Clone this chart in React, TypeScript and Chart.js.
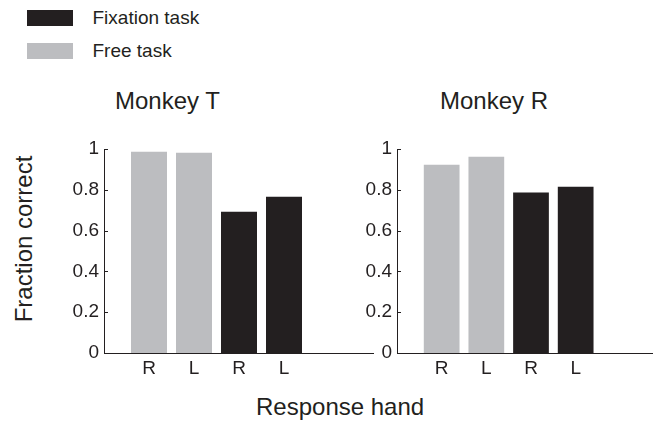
import React, { useEffect, useRef } from "react";
import { Chart, registerables } from "chart.js";

Chart.register(...registerables);

const handLabels = ["R", "L", "R", "L"];
const yTickValues = [0, 0.2, 0.4, 0.6, 0.8, 1];
const monkeyTFree = [0.987, 0.982];
const monkeyTFixation = [0.692, 0.766];
const monkeyRFree = [0.923, 0.962];
const monkeyRFixation = [0.787, 0.815];

const BLACK = "#231f20";
const GRAY = "#bcbdc0";
const TEXT = "#231f20";
const FONT = "'Liberation Sans', Arial, Helvetica, sans-serif";

const inwardTicks = {
  id: "inwardTicks",
  afterDraw(chart: any) {
    const y = chart.scales.y;
    const ctx = chart.ctx;
    ctx.save();
    ctx.strokeStyle = BLACK;
    ctx.lineWidth = 1;
    ctx.beginPath();
    y.ticks.forEach((t: any) => {
      const py = Math.round(y.getPixelForValue(t.value)) + 0.5;
      ctx.moveTo(y.right, py);
      ctx.lineTo(y.right + 4, py);
    });
    ctx.stroke();
    ctx.restore();
  },
};

function makeConfig(free: number[], fixation: number[]): any {
  return {
    type: "bar",
    data: {
      datasets: [
        {
          label: "Free task",
          data: free.map((v, i) => ({ x: i + 1, y: v })),
          backgroundColor: GRAY,
          grouped: false,
          barPercentage: 0.8,
          categoryPercentage: 1,
        },
        {
          label: "Fixation task",
          data: fixation.map((v, i) => ({ x: i + 1 + free.length, y: v })),
          backgroundColor: BLACK,
          grouped: false,
          barPercentage: 0.8,
          categoryPercentage: 1,
        },
      ],
    },
    options: {
      animation: false,
      responsive: false,
      maintainAspectRatio: false,
      layout: { padding: { top: 29, right: 0, left: 0, bottom: 0 } },
      plugins: { legend: { display: false }, tooltip: { enabled: false }, title: { display: false } },
      scales: {
        x: {
          type: "linear",
          min: 0,
          max: 6,
          offset: false,
          grid: { display: false, drawTicks: false },
          border: { display: true, color: BLACK, width: 1 },
          afterBuildTicks: (scale: any) => {
            scale.ticks = handLabels.map((_, i) => ({ value: i + 1 }));
          },
          afterFit: (scale: any) => {
            scale.height = 30;
          },
          ticks: {
            padding: 4,
            color: TEXT,
            font: { size: 19, family: FONT },
            maxRotation: 0,
            autoSkip: false,
            callback: (v: number) => handLabels[Math.round(v) - 1] ?? "",
          },
        },
        y: {
          min: 0,
          max: 1,
          grid: { display: false, drawTicks: false },
          border: { display: true, color: BLACK, width: 1 },
          afterBuildTicks: (scale: any) => {
            scale.ticks = yTickValues.map((v) => ({ value: v }));
          },
          afterFit: (scale: any) => {
            scale.width = 64;
          },
          ticks: {
            padding: 5,
            color: TEXT,
            font: { size: 19, family: FONT },
            callback: (v: number) => String(v),
          },
        },
      },
    },
    plugins: [inwardTicks],
  };
}

function Panel({ free, fixation, left, width }: { free: number[]; fixation: number[]; left: number; width: number }) {
  const ref = useRef<HTMLCanvasElement | null>(null);
  useEffect(() => {
    if (!ref.current) return;
    const chart = new Chart(ref.current, makeConfig(free, fixation));
    return () => chart.destroy();
  }, []);
  return (
    <canvas
      ref={ref}
      width={width}
      height={263}
      style={{ position: "absolute", left, top: 120, width, height: 263 }}
    />
  );
}

const textStyle: React.CSSProperties = {
  position: "absolute",
  color: TEXT,
  fontFamily: FONT,
  whiteSpace: "nowrap",
  lineHeight: 1,
};

export default function App() {
  return (
    <div
      style={{
        position: "absolute",
        left: 0,
        top: 0,
        width: 653,
        height: 422,
        overflow: "hidden",
        background: "#ffffff",
      }}
    >
      <div style={{ position: "absolute", left: 27, top: 10, width: 46, height: 16, background: BLACK }} />
      <div style={{ ...textStyle, left: 92.5, top: 7.5, fontSize: 19 }}>Fixation task</div>
      <div style={{ position: "absolute", left: 27, top: 43, width: 46, height: 16, background: GRAY }} />
      <div style={{ ...textStyle, left: 92.5, top: 41, fontSize: 19 }}>Free task</div>

      <div style={{ ...textStyle, left: 115, top: 89, fontSize: 24 }}>Monkey T</div>
      <div style={{ ...textStyle, left: 440, top: 89, fontSize: 24 }}>Monkey R</div>

      <Panel free={monkeyTFree} fixation={monkeyTFixation} left={40} width={334} />
      <Panel free={monkeyRFree} fixation={monkeyRFixation} left={333} width={332} />

      <div
        style={{
          ...textStyle,
          left: 24,
          top: 239,
          fontSize: 24,
          transform: "translate(-50%, -50%) rotate(-90deg)",
        }}
      >
        Fraction correct
      </div>
      <div style={{ ...textStyle, left: 256, top: 395, fontSize: 24 }}>Response hand</div>
    </div>
  );
}
